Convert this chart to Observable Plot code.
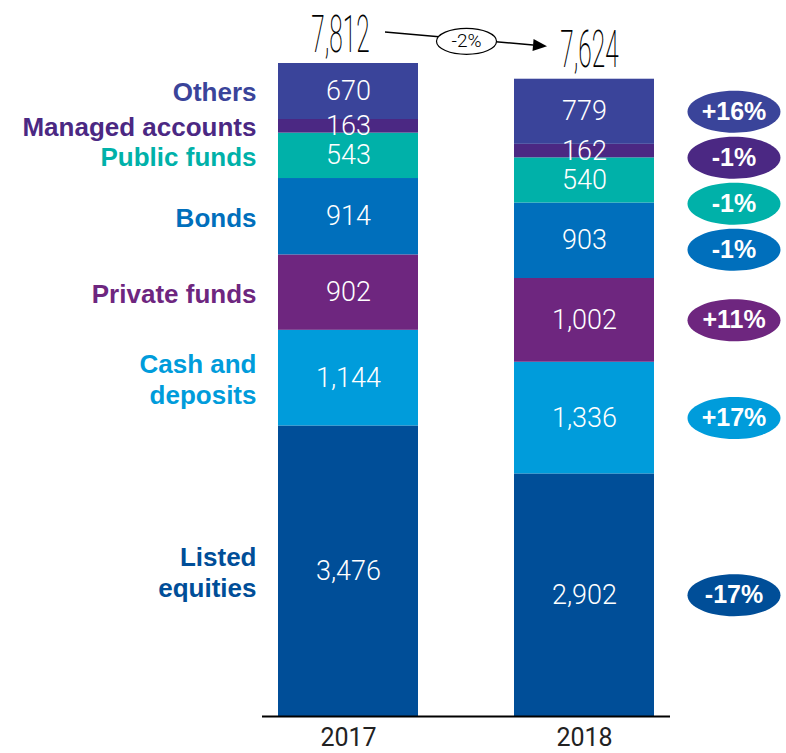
<!DOCTYPE html>
<html>
<head>
<meta charset="utf-8">
<script src="https://cdn.jsdelivr.net/npm/d3@7"></script>
<script src="https://cdn.jsdelivr.net/npm/@observablehq/plot@0.6"></script>
<style>
  body { margin: 0; background: #fff; }
  #chart svg { display: block; }
</style>
</head>
<body>
<div id="chart"></div>
<script>
// ---- data ----
const years = ["2017", "2018"];
const categories = ["Listed equities", "Cash and deposits", "Private funds", "Bonds", "Public funds", "Managed accounts", "Others"];
const categoryLabels = ["Listed\nequities", "Cash and\ndeposits", "Private funds", "Bonds", "Public funds", "Managed accounts", "Others"];
const values2017 = [3476, 1144, 902, 914, 543, 163, 670];
const values2018 = [2902, 1336, 1002, 903, 540, 162, 779];
const changes = ["-17%", "+17%", "+11%", "-1%", "-1%", "-1%", "+16%"];
const totals = [7812, 7624];
const totalChange = "-2%";
const colors = ["#004e98", "#009cdb", "#6e267f", "#006fbc", "#00b1a9", "#4b2883", "#3a449a"];

// ---- layout ----
const W = 786, H = 753;
const margin = {top: 63, right: 116, bottom: 37, left: 262};
const xRange = [278, 654];
const padInner = 0.4068;
const step = (xRange[1] - xRange[0]) / (years.length - padInner);
const ymax = d3.max(totals);
const innerH = H - margin.top - margin.bottom;
const fmt = d3.format(",");

const valueSets = [values2017, values2018];
const rows = [];
years.forEach((yr, j) => {
  let acc = 0;
  categories.forEach((c, i) => {
    const v = valueSets[j][i];
    rows.push({year: yr, category: c, label: categoryLabels[i], value: v, mid: acc + v / 2, change: changes[i]});
    acc += v;
  });
});

// badge positions for 2018: segment midpoints, pushed apart from the top down
const minGap = 46 * ymax / innerH;
const badges = rows.filter(d => d.year === "2018").map(d => ({...d}));
badges[badges.length - 1].ly = badges[badges.length - 1].mid;
for (let i = badges.length - 2; i >= 0; i--) {
  badges[i].ly = Math.min(badges[i].mid, badges[i + 1].ly - minGap);
}

function ellipse(rx, ry) {
  const k = 0.5523;
  return {
    draw(ctx) {
      ctx.moveTo(rx, 0);
      ctx.bezierCurveTo(rx, ry * k, rx * k, ry, 0, ry);
      ctx.bezierCurveTo(-rx * k, ry, -rx, ry * k, -rx, 0);
      ctx.bezierCurveTo(-rx, -ry * k, -rx * k, -ry, 0, -ry);
      ctx.bezierCurveTo(rx * k, -ry, rx, -ry * k, rx, 0);
      ctx.closePath();
    }
  };
}

const totalRows = years.map((yr, i) => ({year: yr, total: totals[i]}));
const totalsDy = -31;

function totalArrow(index, scales) {
  const bw = typeof scales.x.bandwidth === "function" ? scales.x.bandwidth() : (scales.x.bandwidth || 0);
  const c0 = scales.x(years[0]) + bw / 2;
  const c1 = scales.x(years[1]) + bw / 2;
  const xs = c0 + 37, ys = scales.y(totals[0]) + totalsDy;
  const xe = c1 - 37, ye = scales.y(totals[1]) + totalsDy - 1.5;
  const a = Math.atan2(ye - ys, xe - xs);
  const hl = 14, hw = 6;
  const bx = xe - hl * Math.cos(a), by = ye - hl * Math.sin(a);
  const g = d3.create("svg:g");
  g.append("line").attr("x1", xs).attr("y1", ys).attr("x2", bx).attr("y2", by)
    .attr("stroke", "#000").attr("stroke-width", 1.6);
  g.append("path")
    .attr("d", `M${xe},${ye}L${bx - hw * Math.sin(a)},${by + hw * Math.cos(a)}L${bx + hw * Math.sin(a)},${by - hw * Math.cos(a)}Z`)
    .attr("fill", "#000");
  return g.node();
}

const totalStyle = {x: "year", y: "total", text: d => fmt(d.total), dy: -12, lineAnchor: "bottom",
  fontSize: 52, fontWeight: 200, fontFamily: "Roboto", fill: "#000", ariaDescription: "totals"};

const chart = Plot.plot({
  width: W,
  height: H,
  marginTop: margin.top,
  marginRight: margin.right,
  marginBottom: margin.bottom,
  marginLeft: margin.left,
  style: {background: "#fff"},
  x: {domain: years, range: xRange, paddingInner: padInner, paddingOuter: 0, axis: null},
  y: {domain: [0, ymax], axis: null},
  color: {domain: categories, range: colors},
  marks: [
    Plot.barY(rows, {x: "year", y: "value", fill: "category", inset: 0}),
    Plot.ruleY([0], {stroke: "#000", strokeWidth: 2}),
    Plot.text(rows, {x: "year", y: "mid", text: d => fmt(d.value), fill: "white",
      fontSize: 27, fontWeight: 300, fontFamily: "Roboto", lineAnchor: "middle"}),
    Plot.text(rows.filter(d => d.year === years[0]), {x: "year", y: "mid", text: "label", fill: "category",
      dx: -92, textAnchor: "end", lineAnchor: "middle", lineHeight: 1.2,
      fontSize: 26, fontWeight: "bold", fontFamily: "Liberation Sans"}),
    Plot.dot(badges, {x: "year", y: "ly", fill: "category", dx: 149.5, r: 10, symbol: ellipse(46.5, 21)}),
    Plot.text(badges, {x: "year", y: "ly", text: "change", fill: "white", dx: 149.5,
      fontSize: 25, fontWeight: "bold", fontFamily: "Liberation Sans", lineAnchor: "middle"}),
    Plot.text(years, {x: d => d, frameAnchor: "bottom", dy: 29, lineAnchor: "bottom",
      fontSize: 25, fontFamily: "Roboto", fill: "#222"}),
    totalArrow,
    Plot.dot([totalChange], {x: () => years[0], y: () => (totals[0] + totals[1]) / 2, dx: step / 2, dy: totalsDy + 1,
      r: 10, symbol: ellipse(30, 13), fill: "white", stroke: "#000", strokeWidth: 1.2}),
    Plot.text([totalChange], {x: () => years[0], y: () => (totals[0] + totals[1]) / 2, dx: step / 2, dy: totalsDy + 1,
      text: d => d, fontSize: 19, fontWeight: 300, fontFamily: "Roboto", fill: "#000", lineAnchor: "middle"}),
    Plot.text(totalRows.filter(d => d.year === years[0]), {...totalStyle, dx: -8}),
    Plot.text(totalRows.filter(d => d.year === years[1]), {...totalStyle, dx: 5})
  ]
});

// condense the large total figures horizontally
d3.select(chart).selectAll('g[aria-description="totals"] text').each(function () {
  const t = this.getAttribute("transform") || "";
  this.setAttribute("transform", t + " scale(0.47,1)");
});

document.getElementById("chart").appendChild(chart);
</script>
</body>
</html>
